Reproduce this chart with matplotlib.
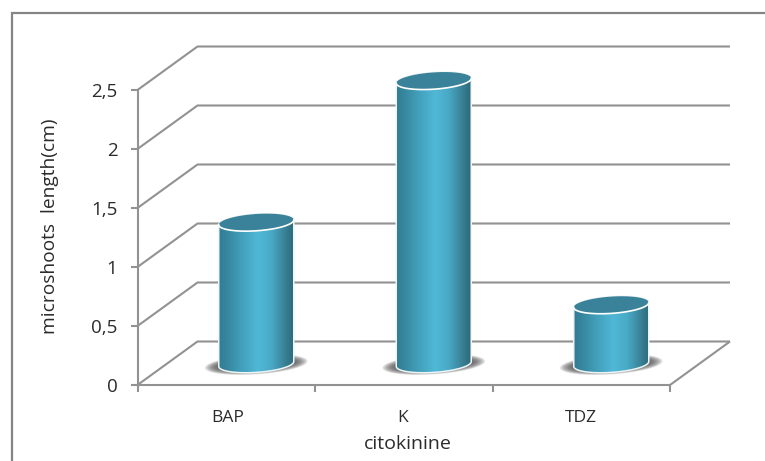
import numpy as np
import matplotlib
matplotlib.use("Agg")
import matplotlib.pyplot as plt
from matplotlib.patches import Polygon
from matplotlib.colors import LinearSegmentedColormap

categories = ["BAP", "K", "TDZ"]
lengths_cm = [1.2, 2.4, 0.5]
y_ticks = [0, 0.5, 1, 1.5, 2, 2.5]
y_tick_labels = ["0", "0,5", "1", "1,5", "2", "2,5"]
x_label = "citokinine"
y_label = "microshoots  length(cm)"

W, H = 765, 461
L, R, B, T = 137.5, 670, 385, 90
DEPTH_X, DEPTH_Y = 60, 43.5
GRID = "#929292"
TEXT = "#2b2b2b"
FONT = "Open Sans"

fig = plt.figure(figsize=(W / 100, H / 100), dpi=100, facecolor="white")
ax = fig.add_axes([L / W, 1 - B / H, (R - L) / W, (B - T) / H])
ax.set_xlim(0, len(categories))
ax.set_ylim(0, 2.5)
ax.axis("off")
sx = len(categories) / (R - L)
sy = 2.5 / (B - T)
dx, dy = DEPTH_X * sx, DEPTH_Y * sy


def line(xs, ys, z=2, lw=1.5, color=GRID):
    ax.plot(xs, ys, color=color, lw=lw, solid_capstyle="butt",
            solid_joinstyle="miter", clip_on=False, zorder=z)


for v in y_ticks:
    line([0, dx, 3 + dx], [v, v + dy, v + dy])
    line([-7 * sx, 0], [v, v])
line([0, 0], [0, 2.5])
line([0, 3, 3 + dx], [0, 0, dy])
for i in range(4):
    line([i, i], [0, -7 * sy])

# frame around the chart (left and top sides only)
fig.add_artist(plt.Line2D([11.5 / W, 11.5 / W, 1], [0, 1 - 13.5 / H, 1 - 13.5 / H],
                          color="#858585", lw=1.6, solid_joinstyle="miter"))

SHEAR = 0.065


def ellipse(cx_px, cy_px, a, b, t=None):
    """Sheared ellipse in pixel space (y down); rises towards the right."""
    t = np.linspace(0, 2 * np.pi, 200) if t is None else t
    return cx_px + a * np.cos(t), cy_px + b * np.sin(t) - SHEAR * a * np.cos(t)


def to_data(px, py):
    return np.column_stack([(np.asarray(px) - L) * sx, (B - np.asarray(py)) * sy])


cmap = LinearSegmentedColormap.from_list("cyl", [
    (0.0, "#2f7c92"), (0.12, "#37879f"), (0.3, "#429fba"), (0.52, "#50b8d7"),
    (0.7, "#48a9c5"), (0.88, "#387f94"), (1.0, "#2b6677")])
grad = np.linspace(0, 1, 256).reshape(1, -1)

CENTER_OFF = 30
BASE = 364
A, E = 37.5, 8.4
for i, v in enumerate(lengths_cm):
    cx = L + (i + 0.5) / sx + CENTER_OFF
    top = BASE - v / sy
    # soft floor shadow
    for k in np.linspace(1, 0, 14):
        px, py = ellipse(cx, BASE + 0.5, A + 13 * k + 1, E - 2.5 + 4 * k)
        ax.add_patch(Polygon(to_data(px, py), closed=True, fc="#505050",
                             ec="none", alpha=0.11, zorder=3, clip_on=False))
    # body outline: lower arc of the base, then upper arc of the top
    bx, by = ellipse(cx, BASE, A, E, t=np.linspace(0, np.pi, 120))
    ux, uy = ellipse(cx, top, A, E, t=np.linspace(np.pi, 2 * np.pi, 120))
    verts = to_data(np.concatenate([bx, ux]), np.concatenate([by, uy]))
    xmin, xmax = cx - A - 1, cx + A + 1
    im = ax.imshow(grad, cmap=cmap, aspect="auto", zorder=4, interpolation="bilinear",
                   extent=[(xmin - L) * sx, (xmax - L) * sx,
                           (B - (BASE + 12)) * sy, (B - (top - 12)) * sy])
    im.set_clip_box(fig.bbox)
    im.set_clip_path(Polygon(verts, closed=True, transform=ax.transData))
    ax.add_patch(Polygon(verts, closed=True, fc="none", ec="#eef5f7", lw=1.1,
                         zorder=5, clip_on=False))
    tx, ty = ellipse(cx, top, A, E)
    ax.add_patch(Polygon(to_data(tx, ty), closed=True, fc="#3a8299", ec="none",
                         zorder=6, clip_on=False))
    lx, ly = ellipse(cx, top, A, E, t=np.linspace(np.pi, 0, 80))
    d = to_data(lx, ly)
    ax.plot(d[:, 0], d[:, 1], color="white", lw=1.2, zorder=7, clip_on=False)

ax.set_xlim(0, len(categories))
ax.set_ylim(0, 2.5)

for v, s in zip(y_ticks, y_tick_labels):
    ax.text(-20 * sx, v - 1.5 * sy, s, ha="right", va="center", fontsize=13.5, color=TEXT,
            family=FONT, clip_on=False)
label_px = [228, 403, 581]
for c, p in zip(categories, label_px):
    fig.text(p / W, 1 - 418 / H, c, ha="center", va="center", fontsize=12.5,
             color=TEXT, family=FONT)
fig.text(408 / W, 1 - 444 / H, x_label, ha="center", va="center", fontsize=14,
         color=TEXT, family=FONT)
fig.text(50 / W, 1 - 226 / H, y_label, ha="center", va="center", rotation=90,
         fontsize=13.8, color=TEXT, family=FONT)

fig.savefig("out.png", dpi=100, facecolor="white")
